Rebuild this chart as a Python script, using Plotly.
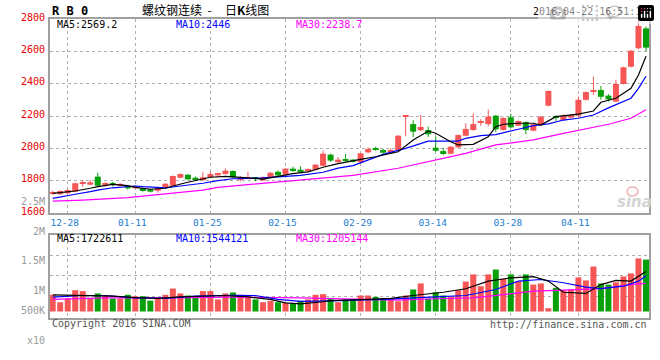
import plotly.graph_objects as go

# ---------------- data ----------------
dates = ["12-24","12-25","12-28","12-29","12-30","12-31","01-04","01-05","01-06","01-07",
         "01-08","01-11","01-12","01-13","01-14","01-15","01-18","01-19","01-20","01-21",
         "01-22","01-25","01-26","01-27","01-28","01-29","02-01","02-02","02-03","02-04",
         "02-05","02-15","02-16","02-17","02-18","02-19","02-22","02-23","02-24","02-25",
         "02-26","02-29","03-01","03-02","03-03","03-04","03-07","03-08","03-09","03-10",
         "03-11","03-14","03-15","03-16","03-17","03-18","03-21","03-22","03-23","03-24",
         "03-25","03-28","03-29","03-30","03-31","04-01","04-05","04-06","04-07","04-08",
         "04-11","04-12","04-13","04-14","04-15","04-18","04-19","04-20","04-21","04-22"]
tick_labels = ["12-28","01-11","01-25","02-15","02-29","03-14","03-28","04-11"]

opens = [1718,1716,1722,1732,1782,1775,1825,1774,1786,1772,
         1767,1753,1753,1746,1738,1759,1769,1818,1837,1818,
         1803,1821,1833,1841,1860,1806,1812,1815,1802,1821,
         1855,1837,1874,1868,1858,1868,1892,1961,1915,1932,
         1930,1914,1975,1997,1990,1969,1990,2197,2150,2112,
         2113,2004,1983,1967,2006,2078,2113,2157,2150,2202,
         2113,2192,2140,2162,2109,2144,2264,2195,2175,2190,
         2202,2300,2354,2361,2326,2289,2398,2505,2619,2742]
closes = [1730,1736,1742,1784,1786,1790,1769,1786,1775,1780,
          1753,1767,1736,1732,1756,1781,1829,1841,1808,1804,
          1821,1841,1847,1862,1821,1810,1822,1813,1822,1849,
          1833,1874,1860,1853,1872,1899,1967,1924,1930,1922,
          1917,1969,1996,1995,1973,1990,2078,2200,2103,2132,
          2087,1985,1965,2010,2082,2120,2150,2159,2196,2118,
          2188,2130,2169,2113,2149,2196,2355,2193,2200,2206,
          2300,2348,2356,2319,2303,2398,2501,2604,2757,2623]
highs = [1738,1740,1746,1788,1804,1804,1849,1790,1792,1784,
         1771,1771,1757,1750,1760,1785,1832,1845,1840,1825,
         1854,1857,1850,1874,1864,1827,1855,1823,1826,1853,
         1862,1877,1886,1888,1876,1902,1986,1967,1946,1965,
         1934,1972,2005,2010,1997,2000,2082,2201,2174,2206,
         2134,2075,2003,2014,2086,2155,2215,2180,2240,2206,
         2192,2215,2173,2166,2153,2200,2358,2205,2210,2210,
         2320,2352,2443,2385,2335,2425,2505,2608,2794,2753]
lows = [1712,1712,1718,1728,1763,1772,1763,1763,1765,1768,
        1745,1750,1732,1728,1726,1755,1766,1815,1804,1798,
        1800,1818,1821,1838,1818,1796,1809,1796,1799,1818,
        1826,1834,1853,1850,1855,1865,1889,1916,1905,1918,
        1912,1905,1970,1985,1965,1965,1986,2075,2070,2106,
        2071,1977,1959,1963,2003,2075,2110,2140,2137,2100,
        2110,2126,2136,2088,2106,2140,2260,2170,2172,2186,
        2190,2295,2330,2300,2290,2285,2395,2500,2613,2600]

# volume, in millions of units
vol_m = [0.72,0.40,0.56,0.92,0.88,0.56,0.78,0.69,0.56,0.56,
         0.72,0.66,0.66,0.47,0.56,0.72,0.99,0.78,0.69,0.62,
         0.88,0.88,0.52,0.78,0.82,0.72,0.66,0.52,0.40,0.46,
         0.40,0.37,0.34,0.46,0.52,0.72,0.75,0.59,0.40,0.52,
         0.52,0.69,0.69,0.63,0.56,0.56,0.44,0.69,0.95,1.21,
         0.56,0.83,0.69,0.63,0.92,1.29,1.60,1.09,1.60,1.81,
         1.41,1.60,1.31,1.60,1.16,1.21,0.14,1.02,0.92,0.95,
         1.47,1.34,1.94,1.21,1.16,1.26,1.51,1.64,2.29,2.24]

# moving-average lines (day index, value)
ma5_idx = [0,1,3,5,6,8,10,11,13,15,16,18,20,21,23,25,26,28,30,32,34,36,38,40,41,43,46,48,50,51,
           53,54,56,58,59,60,62,64,65,67,70,72,73,75,77,78,79]
ma5_val = [1722,1728,1736,1753,1763,1777,1769,1759,1747,1753,1767,1790,1808,1821,1827,1823,1817,
           1810,1827,1843,1854,1883,1905,1926,1932,1948,1979,2052,2107,2093,2041,2021,2025,2072,
           2134,2149,2155,2155,2144,2196,2212,2231,2285,2310,2371,2454,2569]
ma10_idx = [0,1,3,5,6,8,11,12,14,15,17,19,20,22,24,28,30,33,36,38,40,42,44,47,50,54,55,57,59,
            62,64,66,68,70,72,74,77,78,79]
ma10_val = [1691,1698,1716,1732,1742,1756,1767,1763,1756,1756,1767,1777,1784,1800,1812,1817,1825,
            1833,1852,1878,1893,1928,1963,2000,2045,2045,2062,2078,2085,2118,2140,2151,2175,2186,
            2206,2250,2310,2371,2446]
ma30_idx = [0,4,10,13,16,20,22,26,30,33,36,40,46,50,55,59,64,68,71,74,77,79]
ma30_val = [1674,1680,1695,1709,1726,1742,1759,1775,1790,1804,1817,1833,1877,1917,1969,2021,2052,
            2093,2120,2149,2186,2239]

vma5_idx = [0,4,8,11,14,17,20,23,26,29,31,33,36,37,42,45,48,52,55,58,61,64,66,68,71,73,75,77,79]
vma5_m = [0.72,0.69,0.66,0.60,0.57,0.63,0.66,0.69,0.63,0.52,0.37,0.33,0.42,0.47,0.52,0.57,0.69,
          0.83,0.98,1.31,1.45,1.50,1.31,0.83,0.78,1.16,1.34,1.31,1.72]
vma10_idx = [0,4,7,11,15,19,24,27,30,33,37,44,51,55,59,62,65,68,71,73,76,78,79]
vma10_m = [0.62,0.69,0.69,0.59,0.57,0.66,0.70,0.69,0.52,0.44,0.46,0.52,0.63,0.69,0.95,1.31,1.38,
           1.24,1.05,0.99,1.09,1.31,1.54]
vma30_idx = [0,3,7,15,24,33,37,46,51,56,60,64,68,73,77,79]
vma30_m = [0.52,0.56,0.59,0.59,0.62,0.59,0.56,0.49,0.55,0.59,0.73,0.88,0.92,0.99,1.16,1.21]

legend_price = ["MA5:2569.2", "MA10:2446", "MA30:2238.7"]
legend_vol = ["MA5:1722611", "MA10:1544121", "MA30:1205144"]
price_ticks = [2800, 2600, 2400, 2200, 2000, 1800, 1600]
vol_labels = ["2.5M", "2M", "1.5M", "1M", "500K", "x10"]

# ---------------- styles / layout ----------------
W, H = 660, 360
RED = "#f75656"
GREEN = "#08a008"
MONO = "DejaVu Sans Mono"
def py(p):  # pixel row -> paper y
    return 1 - p / H
def pxx(p):
    return p / W

n = len(dates)
idx = list(range(n))
up = [c >= o for o, c in zip(opens, closes)]
vols = [v * 1e6 for v in vol_m]

fig = go.Figure()

MINB = 7
for is_up, col in ((True, RED), (False, GREEN)):
    sel = [i for i in idx if up[i] == is_up]
    base = [min(opens[i], closes[i]) for i in sel]
    hgt = [max(abs(closes[i] - opens[i]), MINB) for i in sel]
    fig.add_trace(go.Bar(x=sel, y=hgt, base=base, width=0.8, marker=dict(color=col, line=dict(width=0)),
                         xaxis="x", yaxis="y", hoverinfo="skip", showlegend=False))
    wx, wy = [], []
    for i in sel:
        wx += [i, i, None]
        wy += [lows[i], highs[i], None]
    fig.add_trace(go.Scatter(x=wx, y=wy, mode="lines", line=dict(color=col, width=1),
                             xaxis="x", yaxis="y", hoverinfo="skip", showlegend=False))
    fig.add_trace(go.Bar(x=sel, y=[vols[i] for i in sel], width=0.8,
                         marker=dict(color=col, line=dict(width=0)),
                         xaxis="x2", yaxis="y2", hoverinfo="skip", showlegend=False))

for xs, ys, col in ((ma30_idx, ma30_val, "#ff00ff"), (ma10_idx, ma10_val, "#0000ff"),
                    (ma5_idx, ma5_val, "#000000")):
    fig.add_trace(go.Scatter(x=xs, y=ys, mode="lines", line=dict(color=col, width=1.2),
                             xaxis="x", yaxis="y", hoverinfo="skip", showlegend=False))
for xs, ys, col in ((vma30_idx, vma30_m, "#ff00ff"), (vma10_idx, vma10_m, "#0000ff"),
                    (vma5_idx, vma5_m, "#000000")):
    fig.add_trace(go.Scatter(x=xs, y=[v * 1e6 for v in ys], mode="lines", line=dict(color=col, width=1.2),
                             xaxis="x2", yaxis="y2", hoverinfo="skip", showlegend=False))

# axis geometry (pixels)
X0, X1 = 50, 649
P_TOP, P_BOT = 19, 213
V_TOP, V_BOT, V_ZERO = 234.7, 318, 311.5
CX0, STEP = 52.7, 7.51
xrange_ = [(X0 - CX0) / STEP, (X1 - CX0) / STEP]
vscale = 23.19 / 1e6
vrange = [-(V_BOT - V_ZERO) / vscale, (V_ZERO - V_TOP) / vscale]
vgrid = [(V_ZERO - p) / vscale for p in (255.3, 275.7, 296)]

tickvals = [dates.index(t) for t in tick_labels]
common_x = dict(range=xrange_, tickvals=tickvals, showgrid=True, gridcolor="#b0b0b0", griddash="dot",
                gridwidth=1, zeroline=False, showline=True, mirror=True, linecolor="#a0a0a0",
                linewidth=1.5, ticks="", fixedrange=True)
fig.update_layout(
    width=W, height=H, margin=dict(l=0, r=0, t=0, b=0),
    paper_bgcolor="white", plot_bgcolor="white", barmode="overlay", showlegend=False,
    xaxis=dict(domain=[pxx(X0), pxx(X1)], anchor="y", ticktext=tick_labels,
               tickfont=dict(family=MONO, size=9.5, color="#1a7dd4"), ticklabelshift=-3,
               ticklabelstandoff=0, **common_x),
    xaxis2=dict(domain=[pxx(X0), pxx(X1)], anchor="y2", showticklabels=False, **common_x),
    yaxis=dict(domain=[py(P_BOT), py(P_TOP)], anchor="x", range=[1600, 2800],
               tickvals=[1800, 2000, 2200, 2400, 2600], showticklabels=False, showgrid=True,
               gridcolor="#b0b0b0", griddash="dot", zeroline=False, showline=True, mirror=True,
               linecolor="#a0a0a0", linewidth=1.5, ticks="", fixedrange=True),
    yaxis2=dict(domain=[py(V_BOT), py(V_TOP)], anchor="x2", range=vrange, tickvals=vgrid,
                showticklabels=False, showgrid=True, gridcolor="#b0b0b0", griddash="dot",
                zeroline=False, showline=True, mirror=True, linecolor="#a0a0a0", linewidth=1.5,
                ticks="", fixedrange=True),
)

ann = []
def text(x, y, s, color="#000", size=10, anchor="left", family=MONO, **kw):
    ann.append(dict(x=pxx(x), y=py(y), xref="paper", yref="paper", text=s, showarrow=False,
                    xanchor=anchor, yanchor="middle", font=dict(family=family, size=size, color=color), **kw))

text(50, 11, "<b>R B 0</b>", size=12)
text(140, 9.5, "螺纹钢连续&nbsp;&nbsp;-&nbsp;&nbsp;&nbsp;&nbsp;&nbsp;日<b>K</b>线图", size=12,
     family="Noto Sans CJK SC")
text(649, 12, "2016-04-22 16:51:17", anchor="right")
for s, x, col in zip(legend_price, (55, 174, 294), ("#000000", "#0000ff", "#ff00ff")):
    text(x, 24.5, s, color=col)
for s, x, col in zip(legend_vol, (55, 174, 294), ("#000000", "#0000ff", "#ff00ff")):
    text(x, 238, s, color=col)
for v in price_ticks:
    ann.append(dict(x=pxx(47), y=v, xref="paper", yref="y", text=str(v), showarrow=False,
                    xanchor="right", yanchor="middle", yshift=2,
                    font=dict(family=MONO, size=10, color="#ee0000")))
for s, p in zip(vol_labels, (201, 231, 260, 290.5, 310.7, 340.5)):
    text(47, p, s, color="#9a9a9a", anchor="right")
text(50, 323.5, "Copyright 2016 SINA.COM", color="#555555")
text(649, 324, "http://finance.sina.com.cn", color="#555555", anchor="right")
ann.append(dict(x=pxx(634), y=py(202), xref="paper", yref="paper", text="sina", showarrow=False,
                xanchor="center", yanchor="middle",
                font=dict(family="DejaVu Sans", size=15, color="#d4d4d4", style="italic", weight="bold")))
fig.update_layout(annotations=ann)
fig.add_shape(type="circle", xref="paper", yref="paper", x0=pxx(627), x1=pxx(638), y0=py(196), y1=py(187),
              line=dict(color="#f4b4b4", width=1.5), fillcolor="rgba(0,0,0,0)")

fig.write_html("out.html", post_script="document.body.style.margin='0';document.body.style.overflow='hidden';")
